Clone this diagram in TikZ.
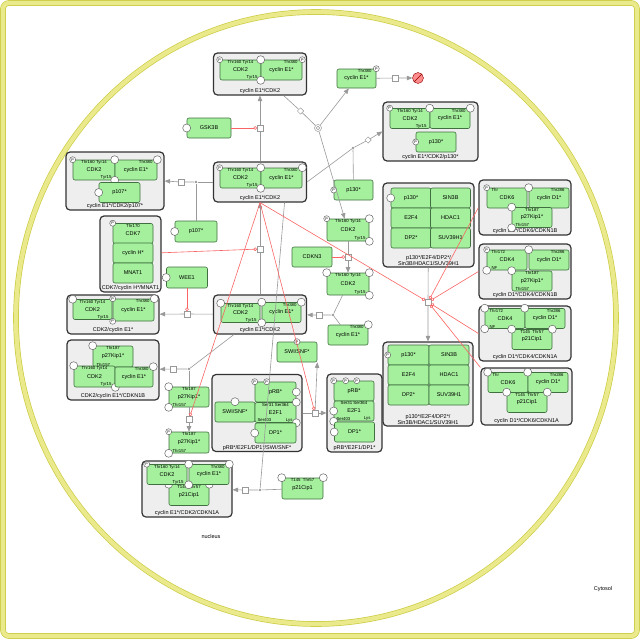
\documentclass[tikz,border=0pt]{standalone}
\usepackage{fontspec}
\setmainfont{Liberation Sans}
\usetikzlibrary{positioning,shapes.geometric,arrows.meta,calc}

\definecolor{protfill}{RGB}{164,240,156}
\definecolor{protedge}{RGB}{64,112,64}
\definecolor{cplxfill}{RGB}{238,238,238}
\definecolor{cmpfill}{RGB}{234,234,140}
\definecolor{cmpedge}{RGB}{204,204,70}
\definecolor{catred}{RGB}{250,100,100}

\begin{document}
\begin{tikzpicture}[x=1pt, y=-1pt,
    font=\fontsize{5.5}{6}\selectfont,
    % compartments
    comp/.style={draw=cmpedge, double=cmpfill, double distance=4.2pt, line width=0.7pt},
    % complexes and species
    cplx/.style={rectangle, draw=black!80, fill=cplxfill, rounded corners=4pt,
                 line width=1.2pt, inner sep=0pt},
    clab/.style={anchor=south, align=center, inner sep=1.5pt},
    prot/.style={rectangle, draw=protedge, fill=protfill, rounded corners=2pt,
                 line width=0.6pt, inner sep=0pt, minimum width=40pt, minimum height=20pt},
    res/.style={font=\fontsize{4.3}{4.3}\selectfont, inner sep=0.6pt},
    st/.style={circle, draw=black!60, fill=white, inner sep=0pt, minimum size=8pt,
               line width=0.5pt, anchor=center},
    pst/.style={st, minimum size=6pt, font=\fontsize{3.8}{3.8}\selectfont},
    % residues
    cdkres/.style={label={[res,anchor=north]north:Thr160 Tyr14},
                   label={[res,anchor=south east,xshift=-3pt]south east:Tyr15}},
    cyeres/.style={label={[res,anchor=north east,xshift=-4pt]north east:Thr380}},
    cydres/.style={label={[res,anchor=north east,xshift=-4pt]north east:Thr286}},
    p27res/.style={label={[res,anchor=north]north:Thr187},
                   label={[res,anchor=south west,xshift=3pt]south west:Thr157}},
    p21res/.style={label={[res,anchor=north]north:T145 \ Thr57}},
    % process glyphs
    proc/.style={rectangle, draw=gray!80, fill=white, minimum size=5.5pt, inner sep=0pt, line width=0.5pt},
    joint/.style={circle, fill=gray!80, minimum size=2.8pt, inner sep=0pt},
    diam/.style={diamond, draw=gray!80, fill=white, minimum size=6.5pt, inner sep=0pt, line width=0.5pt},
    dissoc/.style={circle, draw=gray!80, fill=white, minimum size=7pt, inner sep=0pt, line width=0.5pt,
                   path picture={\draw[gray!80, line width=0.5pt] (path picture bounding box.center) circle (1.8pt);}},
    degr/.style={circle, draw=red!55!black, fill=red!45, minimum size=11pt, inner sep=0pt,
                 path picture={\draw[red!55!black] (path picture bounding box.north east) -- (path picture bounding box.south west);}},
    % connectors
    flow/.style={-{Triangle[length=5.5pt,width=4.5pt]}, draw=gray!80, line width=0.6pt},
    link/.style={draw=gray!80, line width=0.6pt},
    cat/.style={-{Circle[open,length=3.5pt]}, draw=catred, line width=0.6pt}
]
\useasboundingbox (0,0) rectangle (640,640);

% Compartments
\draw[comp, rounded corners=6pt] (3,3) rectangle (637,636);
\draw[comp] (316,318) ellipse [x radius=300, y radius=306];
\node (nucleus) at (211,537) {nucleus};
\node (cytosol) at (603,589) {Cytosol};

% Complexes
\node[cplx, minimum width=93pt, minimum height=42pt, label={[clab]south:cyclin E1*/CDK2}] (ecdkA) at (260,74) {};
\node[cplx, minimum width=93pt, minimum height=40pt, label={[clab]south:cyclin E1*/CDK2}] (ecdkB) at (260,182) {};
\node[cplx, minimum width=95pt, minimum height=59pt, label={[clab]south:cyclin E1*/CDK2/p130*}] (ecdkp130) at (430.5,131.5) {};
\node[cplx, minimum width=91pt, minimum height=84pt, label={[clab]south:p130*/E2F4/DP2*/\\Sin3B/HDAC1/SUV39H1}] (reprA) at (428.5,225) {};
\node[cplx, minimum width=92pt, minimum height=55pt, label={[clab]south:cyclin D1*/CDK6/CDKN1B}] (dk6b) at (525,207.5) {};
\node[cplx, minimum width=92pt, minimum height=55pt, label={[clab]south:cyclin D1*/CDK4/CDKN1B}] (dk4b) at (525,271.5) {};
\node[cplx, minimum width=92pt, minimum height=55pt, label={[clab]south:cyclin D1*/CDK4/CDKN1A}] (dk4a) at (525,333.5) {};
\node[cplx, minimum width=91pt, minimum height=57pt, label={[clab]south:cyclin D1*/CDK6/CDKN1A}] (dk6a) at (526.5,396.5) {};
\node[cplx, minimum width=90pt, minimum height=84pt, label={[clab]south:p130*/E2F4/DP2*/\\Sin3B/HDAC1/SUV39H1}] (reprB) at (428,384) {};
\node[cplx, minimum width=98pt, minimum height=58pt, label={[clab]south:cyclin E1*/CDK2/p107*}] (ecdkp107) at (115,181) {};
\node[cplx, minimum width=61pt, minimum height=76pt, label={[clab]south:CDK7/cyclin H*/MNAT1}] (cak) at (130.5,254) {};
\node[cplx, minimum width=92pt, minimum height=39pt, label={[clab]south:CDK2/cyclin E1*}] (ecdkL) at (113,314.5) {};
\node[cplx, minimum width=93pt, minimum height=39pt, label={[clab]south:cyclin E1*/CDK2}] (ecdkC) at (260,314.5) {};
\node[cplx, minimum width=90pt, minimum height=77pt, label={[clab]south:pRB*/E2F1/DP1*/SWI/SNF*}] (rbswi) at (257,413) {};
\node[cplx, minimum width=55pt, minimum height=78pt, label={[clab]south:pRB*/E2F1/DP1*}] (rbef) at (354.5,413) {};
\node[cplx, minimum width=92pt, minimum height=60pt, label={[clab]south:CDK2/cyclin E1*/CDKN1B}] (ecdkp27) at (113,370) {};
\node[cplx, minimum width=90pt, minimum height=56pt, label={[clab]south:cyclin E1*/CDK2/CDKN1A}] (ecdkp21) at (187,489) {};

% Complex members
\node[prot, minimum width=41pt, cdkres, label={[pst]north west:P}] (ecdkAk) at (240.5,70) {CDK2};
\node[prot, minimum width=41pt, cyeres, label={[pst]north east:P}, label={[st]north west:}, label={[st]south west:}] (ecdkAc) at (281.5,70) {cyclin E1*};

\node[prot, minimum width=41pt, cdkres, label={[pst]north west:P}] (ecdkBk) at (240.5,178) {CDK2};
\node[prot, minimum width=41pt, cyeres, label={[st]north east:}, label={[st]north west:}, label={[st]south west:}] (ecdkBc) at (281.5,178) {cyclin E1*};

\node[prot, cdkres, label={[pst]north west:P}] (ecdkp130k) at (410,118.5) {CDK2};
\node[prot, cyeres, label={[st]north east:}, label={[st]north west:}] (ecdkp130c) at (450,118.5) {cyclin E1*};
\node[prot, label={[pst]west:P}] (ecdkp130p) at (436,142) {p130*};

\node[prot, label={[st]west:}] (reprAa) at (411,198) {p130*};
\node[prot] (reprAb) at (450.5,198) {SIN3B};
\node[prot] (reprAc) at (411,218) {E2F4};
\node[prot] (reprAd) at (450.5,218) {HDAC1};
\node[prot] (reprAe) at (411,238) {DP2*};
\node[prot] (reprAf) at (450.5,238) {SUV39H1};

\node[prot, label={[pst]north west:P}, label={[res,anchor=north west,xshift=4pt]north west:Thr}] (dk6bk) at (507,198) {CDK6};
\node[prot, cydres, label={[st]north west:}] (dk6bc) at (549,198) {cyclin D1*};
\node[prot, p27res, label={[st]north west:}, label={[st]south west:}] (dk6bp) at (532,217.5) {p27Kip1*};

\node[prot, label={[pst]north west:P}, label={[st]south west:}, label={[res,anchor=north west,xshift=4pt]north west:Thr172}, label={[res,anchor=south west,xshift=4pt]south west:NF}] (dk4bk) at (507,260) {CDK4};
\node[prot, cydres, label={[st]north west:}] (dk4bc) at (549,260) {cyclin D1*};
\node[prot, p27res, label={[st]north west:}] (dk4bp) at (532,281) {p27Kip1*};

\node[prot, label={[st]north west:}, label={[st]south west:}, label={[res,anchor=north west,xshift=4pt]north west:Thr172}, label={[res,anchor=south west,xshift=4pt]south west:NF}] (dk4ak) at (505,318.5) {CDK4};
\node[prot, cydres, label={[st]north west:}] (dk4ac) at (545,318.5) {cyclin D1*};
\node[prot, p21res, label={[st]north west:}, label={[st]north east:}] (dk4ap) at (532,339.5) {p21Cip1};

\node[prot, label={[st]north west:}, label={[res,anchor=north west,xshift=4pt]north west:Thr}] (dk6ak) at (508,382.5) {CDK6};
\node[prot, cydres, label={[st]north west:}] (dk6ac) at (548,382.5) {cyclin D1*};
\node[prot, p21res, label={[st]north west:}, label={[st]north east:}] (dk6ap) at (527,402.5) {p21Cip1};

\node[prot, minimum width=41pt, label={[pst]west:P}] (reprBa) at (408.5,355) {p130*};
\node[prot] (reprBb) at (449,355) {SIN3B};
\node[prot, minimum width=41pt] (reprBc) at (408.5,375) {E2F4};
\node[prot] (reprBd) at (449,375) {HDAC1};
\node[prot, minimum width=41pt] (reprBe) at (408.5,395) {DP2*};
\node[prot] (reprBf) at (449,395) {SUV39H1};

\node[prot, minimum width=42pt, cdkres, label={[pst]north west:P}] (ecdkp107k) at (94,170) {CDK2};
\node[prot, minimum width=42pt, cyeres, label={[st]north east:}, label={[st]north west:}, label={[st]south west:}] (ecdkp107c) at (136,170) {cyclin E1*};
\node[prot, minimum width=41pt, label={[st]west:}] (ecdkp107p) at (119.5,192.5) {p107*};

\node[prot, label={[pst]north west:P}, label={[res,anchor=north]north:Thr170}] (cakk) at (133,233.5) {CDK7};
\node[prot] (cakh) at (133,253) {cyclin H*};
\node[prot] (caka) at (133,273) {MNAT1};

\node[prot, minimum width=39pt, cdkres, label={[st]north west:}] (ecdkLk) at (92.5,309.5) {CDK2};
\node[prot, minimum width=41pt, minimum height=22pt, cyeres, label={[pst]north west:P}, label={[st]north east:}, label={[pst]south west:P}] (ecdkLc) at (133.5,310) {cyclin E1*};

\node[prot, minimum width=39pt, minimum height=19pt, cdkres, label={[st]north west:}] (ecdkCk) at (240.5,313) {CDK2};
\node[prot, minimum width=39pt, cyeres, label={[st]north east:}, label={[st]north west:}, label={[st]south west:}] (ecdkCc) at (281.5,312.5) {cyclin E1*};

\node[prot, label={[st]north:}] (rbswis) at (235,412) {SWI/SNF*};
\node[prot, minimum width=41pt, label={[pst]north west:P}, label={[pst,xshift=12pt]north west:P}, label={[st]east:}] (rbswir) at (275.5,392) {pRB*};
\node[prot, minimum width=41pt, label={[st]north east:}, label={[st]south east:},
      label={[res,anchor=north]north:Ser31 Ser364}, label={[res,anchor=south west,xshift=2pt]south west:Ser403}, label={[res,anchor=south east,xshift=-3pt]south east:Lys}] (rbswie) at (275.5,412.5) {E2F1};
\node[prot, minimum width=41pt, label={[st]west:}] (rbswid) at (275.5,433) {DP1*};

\node[prot, label={[pst]north west:P}, label={[pst,xshift=12pt]north west:P}, label={[pst,xshift=23pt]north west:P}] (rbefr) at (354,391) {pRB*};
\node[prot, label={[st]west:}, label={[st]south west:},
      label={[res,anchor=north]north:Ser31 Ser364}, label={[res,anchor=south west,xshift=2pt]south west:Ser403}, label={[res,anchor=south east,xshift=-3pt]south east:Lys}] (rbefe) at (354,411) {E2F1};
\node[prot, label={[st]west:}] (rbefd) at (354.5,432) {DP1*};

\node[prot, minimum height=21pt, p27res, label={[st]north west:}] (ecdkp27p) at (113,356.5) {p27Kip1*};
\node[prot, minimum width=41pt, minimum height=21pt, cdkres, label={[st]north west:}, label={[st]south east:}] (ecdkp27k) at (94.5,376.5) {CDK2};
\node[prot, minimum width=38pt, cyeres, label={[st]north east:}] (ecdkp27c) at (134,377) {cyclin E1*};

\node[prot, minimum height=21pt, p21res, label={[st]north west:}, label={[st]north east:}] (ecdkp21p) at (189,495) {p21Cip1};
\node[prot, cdkres, label={[pst]north west:P}] (ecdkp21k) at (167,474.5) {CDK2};
\node[prot, cyeres, label={[st]north east:}, label={[st]north west:}, label={[st]south west:}] (ecdkp21c) at (209,474.5) {cyclin E1*};

% Free species
\node[prot, minimum width=39pt, minimum height=19pt, cyeres, label={[pst]north east:P}] (cycE) at (356.5,78.5) {cyclin E1*};
\node[prot, minimum width=44pt, label={[st]west:}] (gsk) at (209,128) {GSK3B};
\node[prot, minimum width=39pt, label={[pst]west:P}] (pRLtwo) at (353.5,190) {p130*};
\node[prot, minimum width=42pt, minimum height=21pt, label={[st]west:}] (pRLone) at (196,231.5) {p107*};
\node[prot, minimum width=41pt, minimum height=21pt, label={[st]west:}] (wee) at (187,277.5) {WEE1};
\node[prot] (cdkn) at (312,257) {CDKN3};
\node[prot, minimum width=42pt, minimum height=22pt, cdkres, label={[pst]north west:P}, label={[st]north east:}, label={[st]south east:}] (cdkP) at (348,230) {CDK2};
\node[prot, minimum width=42pt, minimum height=22pt, cdkres, label={[st]north west:}, label={[st]north east:}, label={[st]south east:}] (cdkU) at (348,284) {CDK2};
\node[prot, cyeres, label={[st]north east:}] (cycEb) at (348,335) {cyclin E1*};
\node[prot, label={[pst]north:P}] (swi) at (297,352) {SWI/SNF*};
\node[prot, p27res, label={[st]north west:}, label={[st]south west:}] (kipU) at (189,397) {p27Kip1*};
\node[prot, minimum height=21pt, p27res, label={[pst]north west:P}, label={[st]south west:}] (kipP) at (189,442.5) {p27Kip1*};
\node[prot, minimum width=41pt, minimum height=21pt, p21res, label={[st]north west:}, label={[st]north east:}] (cip) at (302.5,488.5) {p21Cip1};

% Process glyphs
\node[proc] (actA) at (260,128) {};
\node[proc] (degpr) at (395,78) {};
\node[degr] (sink) at (418,78) {};
\node[diam] (splitq) at (300.5,111) {};
\node[dissoc] (split) at (318,128) {};
\node[joint] (bindq) at (353,148) {};
\node[diam] (bind) at (368,140) {};
\node[joint] (pjoin) at (196,182) {};
\node[proc] (pbind) at (181,182) {};
\node[proc] (actB) at (260,249) {};
\node[proc] (inhib) at (187,314) {};
\node[proc] (dephos) at (348,257) {};
\node[joint] (ejoin) at (333,315) {};
\node[proc] (ebind) at (319,315) {};
\node[proc] (repact) at (428,302) {};
\node[proc] (rbpr) at (315,413) {};
\node[joint] (kjoin) at (189,369) {};
\node[proc] (kbind) at (173,369) {};
\node[proc] (kphos) at (189,419) {};
\node[joint] (cjoin) at (260,490) {};
\node[proc] (cbind) at (245,490) {};

% Transitions
\draw[flow] (ecdkB) -- (actA) -- (ecdkA);
\draw[flow] (cycE) -- (degpr) -- (sink);
\draw[link] (ecdkA) -- (splitq) -- (split);
\draw[flow] (split) -- (cycE);
\draw[flow] (split) -- (cdkP);
\draw[link] (ecdkB.east) -- (bindq);
\draw[link] (pRLtwo) -- (bindq);
\draw[flow] (bindq) -- (bind) -- (ecdkp130.west);
\draw[link] (ecdkB.west) -- (pjoin);
\draw[link] (pRLone) -- (pjoin);
\draw[flow] (pjoin) -- (pbind) -- (ecdkp107.east);
\draw[flow] (ecdkC) -- (actB) -- (ecdkB);
\draw[flow] (ecdkC) -- (inhib) -- (ecdkL);
\draw[flow] (cdkP) -- (dephos) -- (cdkU);
\draw[link] (cdkU) -- (ejoin);
\draw[link] (cycEb) -- (ejoin);
\draw[flow] (ejoin) -- (ebind) -- (ecdkC);
\draw[flow] (reprA) -- (repact) -- (reprB);
\draw[flow] (rbswi) -- (rbpr) -- (rbef);
\draw[flow] (rbpr) -- (swi.south east);
\draw[link] (ecdkC) -- (kjoin);
\draw[link] (kipU) -- (kjoin);
\draw[flow] (kjoin) -- (kbind) -- (ecdkp27);
\draw[flow] (kipU) -- (kphos) -- (kipP);
\draw[link] (ecdkB.-40) -- (cjoin);
\draw[link] (cip) -- (cjoin);
\draw[flow] (cjoin) -- (cbind) -- (ecdkp21);

% Catalysis and inhibition (red)
\draw[cat] (gsk) -- (actA);
\draw[cat] (cak) -- (actB);
\draw[cat] (wee) -- (inhib);
\draw[cat] (cdkn) -- (dephos);
\draw[cat] (dk6b.west) -- (repact);
\draw[cat] (dk4b.west) -- (repact);
\draw[cat] (dk4a.west) -- (repact);
\draw[cat] (dk6a.north west) -- (repact);
\draw[cat] (ecdkB.south) -- (repact);
\draw[cat] (ecdkB.south) -- (rbpr);
\draw[cat] (ecdkB.south) -- (kphos);

\end{tikzpicture}
\end{document}
